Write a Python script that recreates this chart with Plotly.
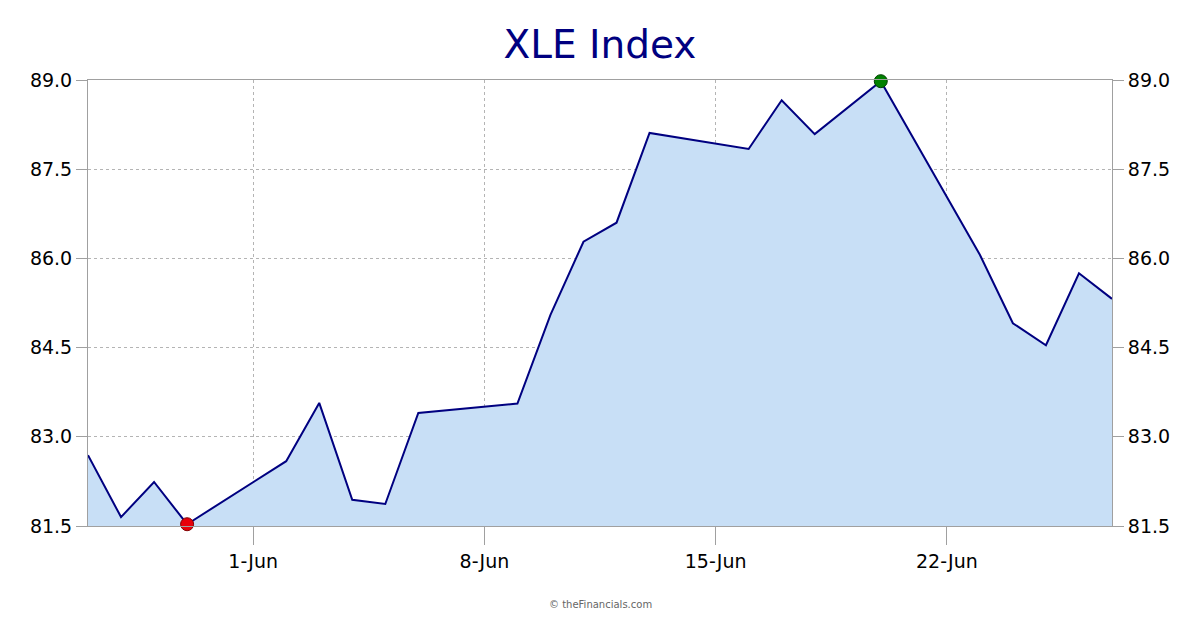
import plotly.graph_objects as go

dates = ["2025-05-27", "2025-05-28", "2025-05-29", "2025-05-30",
         "2025-06-02", "2025-06-03", "2025-06-04", "2025-06-05", "2025-06-06",
         "2025-06-09", "2025-06-10", "2025-06-11", "2025-06-12", "2025-06-13",
         "2025-06-16", "2025-06-17", "2025-06-18", "2025-06-20",
         "2025-06-23", "2025-06-24", "2025-06-25", "2025-06-26", "2025-06-27"]
values = [82.69, 81.65, 82.24, 81.53,
          82.59, 83.57, 81.94, 81.87, 83.40,
          83.56, 85.05, 86.28, 86.60, 88.11,
          87.84, 88.66, 88.09, 88.98,
          86.06, 84.91, 84.54, 85.75, 85.32]
y_ticks = [81.5, 83.0, 84.5, 86.0, 87.5, 89.0]
x_ticks = ["2025-06-01", "2025-06-08", "2025-06-15", "2025-06-22"]
x_range = ["2025-05-27", "2025-06-27"]
title = "XLE Index"
credit = "© theFinancials.com"

i_min = values.index(min(values))
i_max = values.index(max(values))

FONT = "DejaVu Sans"
fig = go.Figure()
fig.add_trace(go.Scatter(x=dates, y=values, mode="lines", fill="tozeroy",
                         fillcolor="#c8dff6", line=dict(color="#000080", width=2),
                         hoverinfo="x+y", showlegend=False))
fig.add_trace(go.Scatter(x=[dates[i_min]], y=[values[i_min]], mode="markers",
                         cliponaxis=False,
                         marker=dict(size=13, color="#e8000b", line=dict(color="#800000", width=1)),
                         showlegend=False))
fig.add_trace(go.Scatter(x=[dates[i_max]], y=[values[i_max]], mode="markers",
                         cliponaxis=False,
                         marker=dict(size=13, color="#008000", line=dict(color="#004000", width=1)),
                         showlegend=False))
# invisible trace to drive the right axis
fig.add_trace(go.Scatter(x=dates, y=values, mode="lines", yaxis="y2",
                         line=dict(width=0, color="rgba(0,0,0,0)"),
                         hoverinfo="skip", showlegend=False))

yax = dict(range=[y_ticks[0], y_ticks[-1]], tickvals=y_ticks,
           ticktext=[f"{v:.1f}" for v in y_ticks],
           showgrid=True, gridcolor="#b4b4b4", griddash="dot", gridwidth=1,
           showline=True, linecolor="#a0a0a0", linewidth=1,
           ticks="outside", ticklen=11, tickcolor="#a0a0a0",
           tickfont=dict(family=FONT, size=19, color="#000000"),
           zeroline=False, fixedrange=True)

fig.update_layout(
    width=1200, height=630,
    margin=dict(l=88, r=88, t=80, b=104),
    paper_bgcolor="white", plot_bgcolor="white",
    title=dict(text=title, x=0.5, xanchor="center", y=0.93, yanchor="middle",
               font=dict(family=FONT, size=39, color="#000080")),
    xaxis=dict(range=x_range, tickvals=x_ticks, tickformat="%-d-%b",
               showgrid=True, gridcolor="#b4b4b4", griddash="dot", gridwidth=1,
               showline=True, linecolor="#a0a0a0", linewidth=1, mirror=True,
               ticks="outside", ticklen=18, tickcolor="#a0a0a0",
               tickfont=dict(family=FONT, size=19, color="#000000"),
               zeroline=False),
    yaxis=yax,
    yaxis2=dict(yax, overlaying="y", side="right", showgrid=False),
    annotations=[dict(text=credit, xref="paper", yref="paper", x=0.5, y=-0.175,
                      xanchor="center", yanchor="middle", showarrow=False,
                      font=dict(family=FONT, size=10, color="#666666"))],
)

fig.write_html("out.html", config={"displayModeBar": False},
               post_script="document.body.style.margin='0';document.body.style.padding='0';")
